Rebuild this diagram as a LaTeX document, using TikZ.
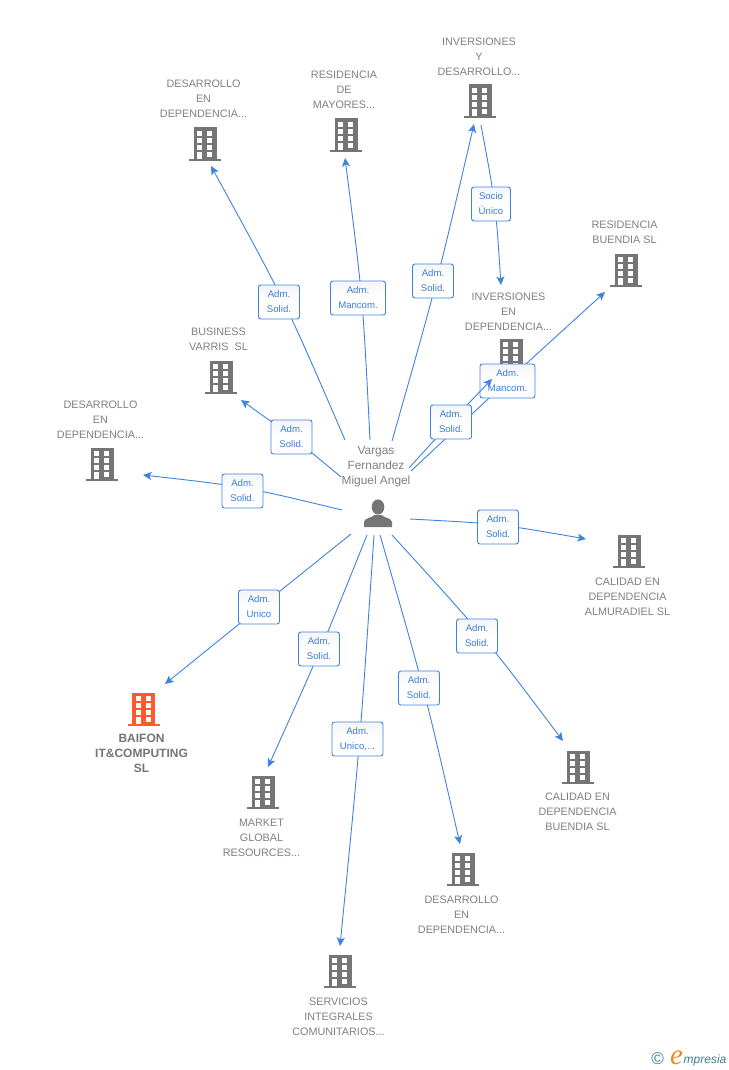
\documentclass[tikz,border=0pt]{standalone}
\usepackage{fontspec}
\setmainfont{Liberation Sans}
\newfontfamily\logoserif{Liberation Serif}
\usetikzlibrary{arrows.meta,calc}
\definecolor{linkblue}{HTML}{3F83E2}
\definecolor{labelblue}{HTML}{3A7CDA}
\definecolor{txtgray}{HTML}{808080}
\definecolor{bldgray}{HTML}{757575}
\definecolor{bldorange}{HTML}{FF5A2B}
\definecolor{logoteal}{HTML}{3F7F96}
\definecolor{logoorange}{HTML}{F08A24}
\definecolor{labeltop}{HTML}{F4F5F6}
\newcommand{\bldshape}[1]{%
  \begin{scope}[shift={(path picture bounding box.center)}]
    \fill[#1] (-11.5,-16.5) rectangle (11.5,15);
    \fill[#1] (-16,15) rectangle (16,17.2);
    \foreach \cx in {-7.8,2.4}{
      \foreach \cy in {-13,-6,1.2}{
        \fill[white] (\cx,\cy) rectangle ++(5,4.6);
      }
    }
    \fill[white] (-7.8,8) rectangle (-2.8,15);
    \fill[white] (2.4,8) rectangle (7.4,12.6);
  \end{scope}}
\tikzset{
  bldbase/.style={rectangle,inner sep=0pt,minimum width=34pt,minimum height=36pt},
  bld/.style={bldbase,path picture={\bldshape{bldgray}}},
  bldhot/.style={bldbase,path picture={\bldshape{bldorange}}},
  personmark/.style={rectangle,inner sep=0pt,minimum width=30pt,minimum height=30pt,
    path picture={
      \begin{scope}[shift={(path picture bounding box.center)}]
        \fill[bldgray] (0,-6) ellipse (6.3 and 7.6);
        \fill[bldgray] (-14,14) -- (-14,9) .. controls (-14,5) and (-6,5) .. (-3.5,2)
          -- (3.5,2) .. controls (6,5) and (14,5) .. (14,9) -- (14,14) -- cycle;
      \end{scope}}},
  nametext/.style={align=center,inner sep=0pt,text=txtgray,font=\fontsize{10.8}{15}\selectfont},
  hottext/.style={nametext,font=\fontsize{12}{15}\selectfont\bfseries,text=bldgray},
  linklabel/.style={draw=linkblue,line width=0.9pt,rounded corners=2.5pt,top color=labeltop,bottom color=white,
    middle color=white,align=center,
    inner sep=0pt,minimum width=41pt,minimum height=34pt,text=labelblue,
    font=\fontsize{9.6}{15}\selectfont},
  conn/.style={draw=linkblue,line width=0.9pt,-{Stealth[length=8.5pt,width=8pt,inset=2pt]}}
}
% #1 source node, #2 offset from it; #3 target node, #4 offset from it; #5 point the curve passes through
\newcommand{\linkvia}[5]{%
  \draw[conn] ($(#1)+(#2)$) .. controls ($1.33333*(#5)-0.16667*(#1)-0.16667*(#2)-0.16667*(#3)-0.16667*(#4)$) .. ($(#3)+(#4)$);}
\begin{document}
\begin{tikzpicture}[x=1pt,y=-1pt]
\useasboundingbox (0,0) rectangle (728,1070);
\fill[white] (0,0) rectangle (728,1070);

% buildings
\node[bld] (b1) at (205,144) {};
\node[bld] (b2) at (346,135) {};
\node[bld] (b3) at (480,101) {};
\node[bld] (b4) at (511,355) {};
\node[bld] (b5) at (626,270) {};
\node[bld] (b6) at (221,377) {};
\node[bld] (b7) at (102,464) {};
\node[bld] (b8) at (629,551) {};
\node[bld] (b9) at (578,767) {};
\node[bld] (b10) at (463,869) {};
\node[bld] (b11) at (340,971) {};
\node[bld] (b12) at (263,792) {};
\node[bldhot] (b13) at (143.5,709) {};
\node[personmark] (person) at (378,513) {};

% names
\node[nametext] (t1) at (203.5,99) {DESARROLLO\\EN\\DEPENDENCIA...};
\node[nametext] (t2) at (344,90) {RESIDENCIA\\DE\\MAYORES...};
\node[nametext] (t3) at (479,57) {INVERSIONES\\Y\\DESARROLLO...};
\node[nametext] (t4) at (508.5,312) {INVERSIONES\\EN\\DEPENDENCIA...};
\node[nametext] (t5) at (624.5,232.5) {RESIDENCIA\\BUENDIA SL};
\node[nametext] (t6) at (218.5,339.5) {BUSINESS\\VARRIS\ \ SL};
\node[nametext] (t7) at (100.5,420) {DESARROLLO\\EN\\DEPENDENCIA...};
\node[nametext] (t8) at (627.5,597) {CALIDAD EN\\DEPENDENCIA\\ALMURADIEL SL};
\node[nametext] (t9) at (577.5,812) {CALIDAD EN\\DEPENDENCIA\\BUENDIA SL};
\node[nametext] (t10) at (461.5,915) {DESARROLLO\\EN\\DEPENDENCIA...};
\node[nametext] (t11) at (338.5,1017) {SERVICIOS\\INTEGRALES\\COMUNITARIOS...};
\node[nametext] (t12) at (261.5,838) {MARKET\\GLOBAL\\RESOURCES...};
\node[hottext] (t13) at (141.5,753) {BAIFON\\IT\&COMPUTING\\SL};
\node[nametext,font=\fontsize{11.9}{15}\selectfont] (tp) at (376,467) {Vargas\\Fernandez\\Miguel Angel};

% label centres
\coordinate (p1) at (279,302);
\coordinate (p2) at (358,298);
\coordinate (p3) at (433,281);
\coordinate (p4) at (491,204);
\coordinate (p5) at (507.5,381);
\coordinate (p6) at (451,422);
\coordinate (p7) at (291.5,437);
\coordinate (p8) at (242.5,491);
\coordinate (p9) at (498,527);
\coordinate (p10) at (477,636);
\coordinate (p11) at (419,688);
\coordinate (p12) at (357.5,739);
\coordinate (p13) at (319,649);
\coordinate (p14) at (259,607);
% points the curves pass through
\coordinate (m1) at (283.5,302);
\coordinate (m2) at (361.5,298);
\coordinate (m3) at (436.5,281);
\coordinate (m4) at (494.5,204);
\coordinate (m5) at (507.5,381);
\coordinate (m6) at (451,422);
\coordinate (m7) at (292,437);
\coordinate (m8) at (244,488);
\coordinate (m9) at (498,525);
\coordinate (m10) at (482,636);
\coordinate (m11) at (423,688);
\coordinate (m12) at (359.5,740);
\coordinate (m13) at (320.5,649);
\coordinate (m14) at (259,608);

% connectors
\linkvia{person}{-33,-73}{b1}{6,22}{m1}
\linkvia{person}{-8,-73}{b2}{-1,23}{m2}
\linkvia{person}{14,-72}{b3}{-6,23}{m3}
\linkvia{b3}{1,24}{b4}{-10,-70}{m4}
\linkvia{person}{33,-42}{b5}{-21,22}{m5}
\linkvia{person}{-37,-36}{b6}{20,23}{m7}
\linkvia{person}{-36,-3}{b7}{41,11}{m8}
\linkvia{person}{32,6}{b8}{-43,-12}{m9}
\linkvia{person}{14,22}{b9}{-15,-26}{m10}
\linkvia{person}{2,22}{b10}{-3,-25}{m11}
\linkvia{person}{-4,22}{b11}{0,-25}{m12}
\linkvia{person}{-11,22}{b12}{5,-25}{m13}
\linkvia{person}{-27,21}{b13}{21.5,-25}{m14}

% labels
\node[linklabel] (l1) at (p1) {Adm.\\Solid.};
\node[linklabel,minimum width=55pt] (l2) at (p2) {Adm.\\Mancom.};
\node[linklabel] (l3) at (p3) {Adm.\\Solid.};
\node[linklabel,minimum width=39pt] (l4) at (p4) {Socio\\Único};
\node[linklabel,minimum width=55pt] (l5) at (p5) {Adm.\\Mancom.};
% this connector runs over the Mancom. box
\linkvia{person}{31,-45}{b4}{-19,24}{m6}
\node[linklabel] (l6) at (p6) {Adm.\\Solid.};
\node[linklabel] (l7) at (p7) {Adm.\\Solid.};
\node[linklabel] (l8) at (p8) {Adm.\\Solid.};
\node[linklabel] (l9) at (p9) {Adm.\\Solid.};
\node[linklabel] (l10) at (p10) {Adm.\\Solid.};
\node[linklabel] (l11) at (p11) {Adm.\\Solid.};
\node[linklabel,minimum width=51pt] (l12) at (p12) {Adm.\\Unico,...};
\node[linklabel] (l13) at (p13) {Adm.\\Solid.};
\node[linklabel] (l14) at (p14) {Adm.\\Unico};

% logo
\node[inner sep=0pt,text=logoteal,font=\fontsize{17}{17}\selectfont] (copy) at (657.7,1058.5) {©};
\node[inner sep=0pt,anchor=base west,text=logoorange,font=\logoserif\itshape\fontsize{29}{29}\selectfont] (logoe) at (670,1064) {e};
\node[inner sep=0pt,anchor=base west,text=logoteal,font=\itshape\fontsize{12}{14}\selectfont] (logot) at (683.5,1063.5) {mpresia};
\end{tikzpicture}
\end{document}
